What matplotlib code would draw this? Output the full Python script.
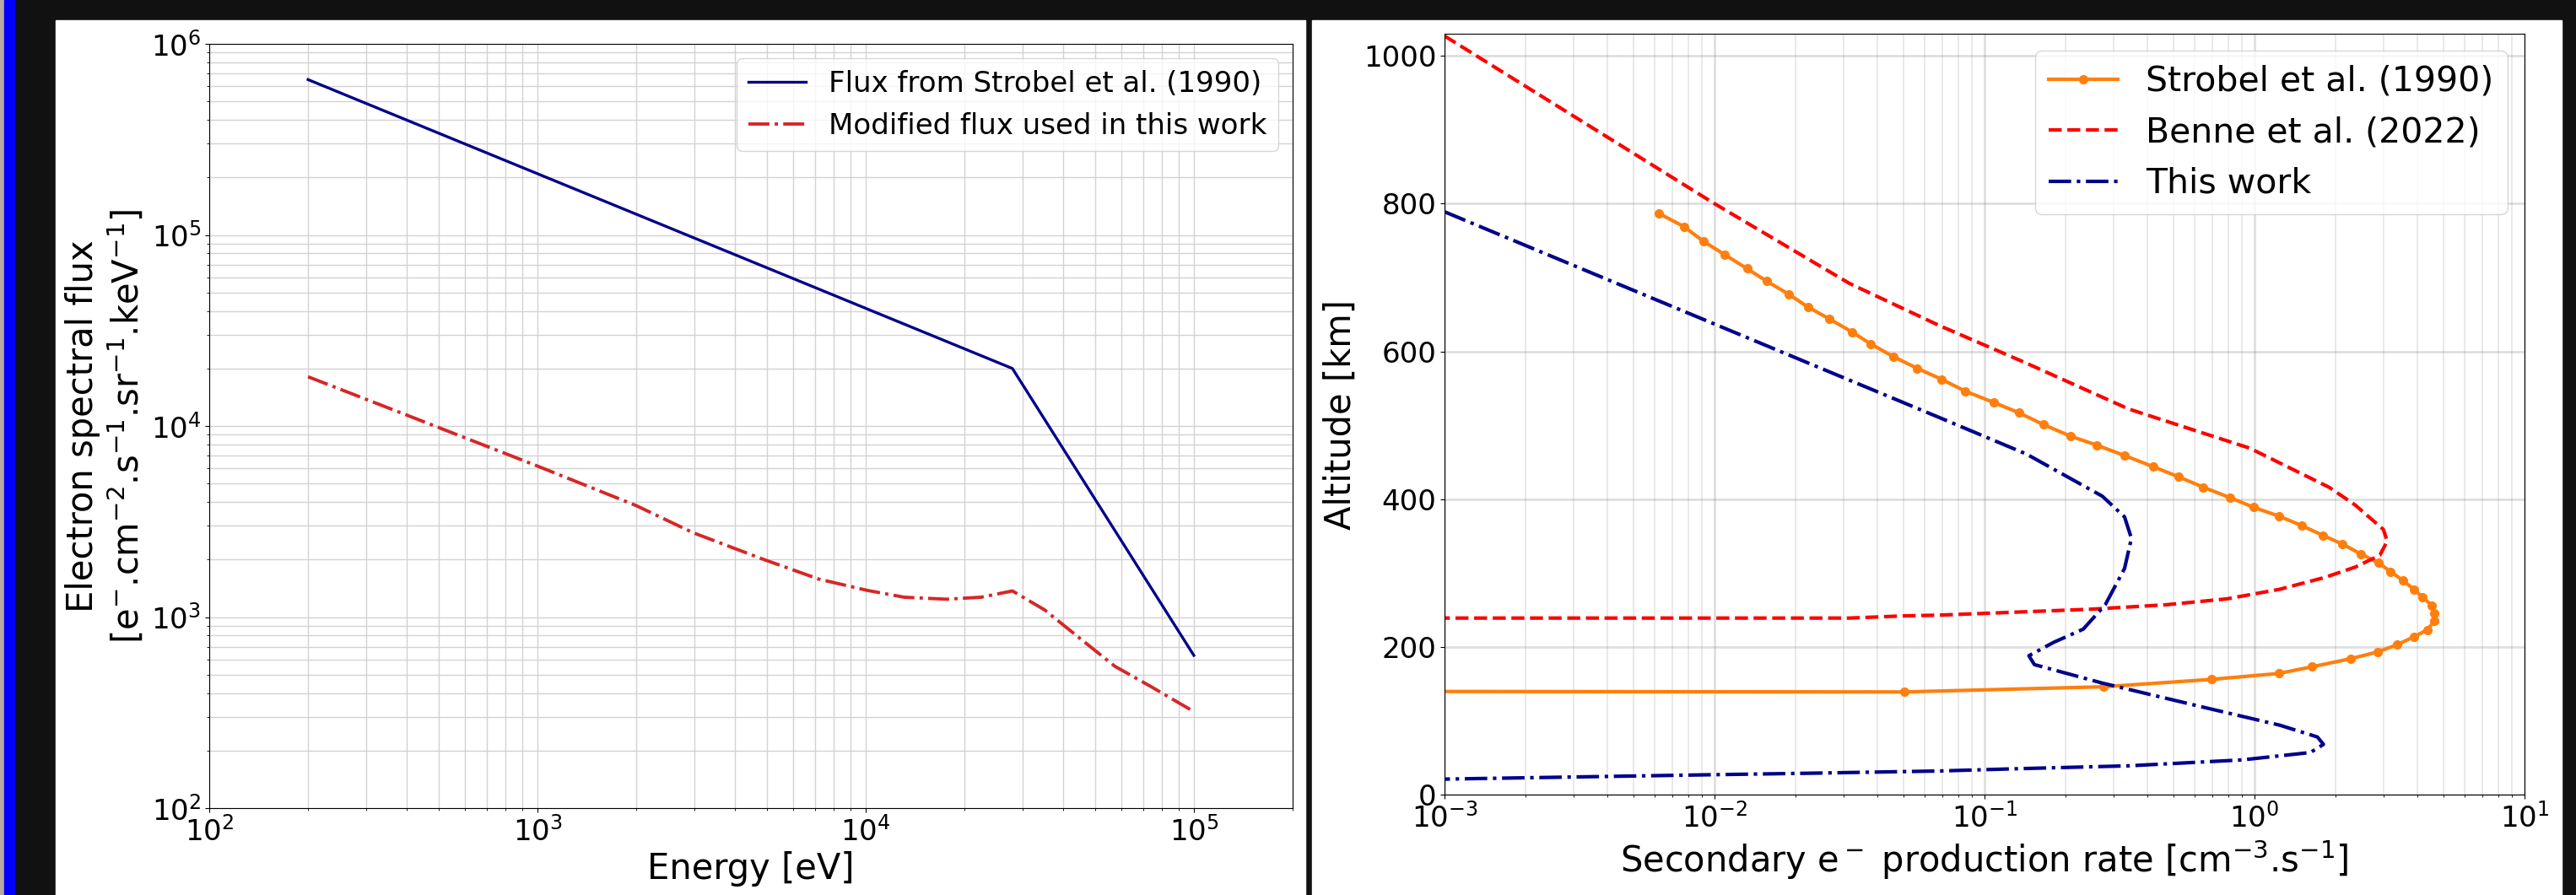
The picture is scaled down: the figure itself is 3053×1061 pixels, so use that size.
# ------------------------------------------------------------------------------
# Description:  Electron flux spectrum and secondary e- production rate profiles
# Execution:    python3 plot.py  ->  out.png
# ------------------------------------------------------------------------------
# ------------------------------------------------------------------------------
# Libraries
# ------------------------------------------------------------------------------

import matplotlib
matplotlib.use("Agg")
import matplotlib.pyplot as plt
from matplotlib.patches import Rectangle
import numpy as np

# ------------------------------------------------------------------------------
# Data
# ------------------------------------------------------------------------------

# Left panel: electron spectral flux vs energy [eV]
energy_strobel = [200, 2.8e4, 1.0e5]
flux_strobel = [6.5e5, 2.0e4, 630]

energy_modified = [200, 400, 1000, 2000, 2970, 4860, 7200, 1.01e4, 1.31e4,
                   1.76e4, 2.25e4, 2.8e4, 3.51e4, 4.49e4, 5.75e4, 7.36e4, 1.0e5]
flux_modified = [1.81e4, 1.14e4, 6.17e3, 3.83e3, 2.77e3, 2.01e3, 1.58e3, 1.38e3,
                 1.27e3, 1.24e3, 1.27e3, 1.37e3, 1.09e3, 775, 552, 435, 320]

left_legend = ["Flux from Strobel et al. (1990)", "Modified flux used in this work"]

# Right panel: secondary electron production rate [cm-3 s-1] vs altitude [km]
strobel_rate = [0.0062, 0.0077, 0.0091, 0.0109, 0.0132, 0.0156, 0.0189, 0.0222,
                0.0266, 0.0324, 0.0379, 0.0459, 0.0564, 0.0695, 0.085, 0.108,
                0.134, 0.165, 0.209, 0.261, 0.330, 0.421, 0.525, 0.647, 0.811,
                0.991, 1.23, 1.50, 1.79, 2.12, 2.47, 2.87, 3.19, 3.54, 3.89,
                4.20, 4.54, 4.64, 4.64, 4.36, 3.91, 3.38, 2.85, 2.27, 1.63,
                1.23, 0.693, 0.276, 0.0504, 1e-4]
strobel_alt = [787, 769, 749, 731, 712, 695, 677, 660, 644, 626, 610, 593, 577,
               562, 546, 531, 517, 501, 485, 473, 459, 444, 430, 416, 402, 389,
               377, 364, 351, 339, 326, 314, 302, 290, 278, 267, 256, 246, 235,
               223, 214, 203, 193, 184, 173, 164, 156, 146, 139, 140]

benne_rate = [1.0e-3, 0.01, 0.0316, 0.068, 0.143, 0.342, 0.96, 1.89, 2.36, 3.0,
              3.10, 2.91, 2.36, 1.82, 1.24, 0.79, 0.47, 0.248, 0.13, 0.068,
              0.0507, 0.0316, 0.01, 1.0e-3]
benne_alt = [1027, 800, 692, 635, 584, 522, 469, 416, 392, 359, 343, 324, 308,
             294, 278, 265, 257, 251, 247, 243, 242, 239, 239, 239]

thiswork_rate = [1.0e-3, 0.01, 0.0706, 0.143, 0.273, 0.33, 0.35, 0.33,
                 0.28, 0.232, 0.18, 0.146, 0.153, 0.273, 0.652, 1.24, 1.71,
                 1.80, 1.61, 0.90, 0.342, 0.13, 0.068, 0.0228, 0.01, 1.0e-3]
thiswork_alt = [789, 637, 508, 461, 404, 376, 347, 306, 257, 224, 206, 188,
                176, 151, 118, 94, 78, 68, 57, 47, 39, 35, 32, 29, 27, 21]

right_legend = ["Strobel et al. (1990)", "Benne et al. (2022)", "This work"]

# ------------------------------------------------------------------------------
# Functions
# ------------------------------------------------------------------------------


def add_background(fig, W, H):
    """Dark backdrop with two white panels and a thin blue strip on the left"""
    def rect(x0, y0, x1, y1, color):
        fig.patches.append(Rectangle((x0 / W, 1 - y1 / H), (x1 - x0) / W, (y1 - y0) / H,
                                     transform=fig.transFigure, color=color,
                                     zorder=-10, figure=fig))
    rect(0, 0, 5, H, '#b9aaa3')
    rect(5, 0, 17, H, '#0000ff')
    rect(66, 24, 1547, H, 'white')
    rect(1555, 24, 3036, H, 'white')


def plot_flux(ax):
    """Left panel: electron spectral flux"""
    ax.plot(energy_strobel, flux_strobel, color='darkblue', linewidth=2.4,
            label=left_legend[0])
    ax.plot(energy_modified, flux_modified, color='tab:red', linestyle='-.',
            linewidth=2.8, label=left_legend[1])

    ax.set_xscale('log')
    ax.set_yscale('log')
    ax.set_xlim(1e2, 2e5)
    ax.set_ylim(1e2, 1e6)

    ax.grid(True, which='both', color='#d2d2d2', linewidth=1.0)
    ax.tick_params(labelsize=24.5)

    ax.set_xlabel("Energy [eV]", fontsize=30)
    ax.set_ylabel("Electron spectral flux\n"
                  r"[e$^{-}$.cm$^{-2}$.s$^{-1}$.sr$^{-1}$.keV$^{-1}$]", fontsize=30)
    ax.legend(loc='upper right', fontsize=24.5)


def plot_production(ax):
    """Right panel: secondary electron production rate profiles"""
    ax.plot(strobel_rate, strobel_alt, color='tab:orange', linewidth=3,
            marker='o', markersize=7, label=right_legend[0])
    ax.plot(benne_rate, benne_alt, color='red', linestyle='--', linewidth=3,
            label=right_legend[1])
    ax.plot(thiswork_rate, thiswork_alt, color='darkblue', linestyle='-.',
            linewidth=3, label=right_legend[2])

    ax.set_xscale('log')
    ax.set_xlim(1e-3, 1e1)
    ax.set_ylim(0, 1030)
    ax.set_yticks(np.arange(0, 1001, 200))

    ax.grid(True, which='major', color='gray', alpha=0.25, linewidth=2)
    ax.grid(True, which='minor', color='gray', alpha=0.2, linewidth=1.2)
    ax.tick_params(labelsize=24.5)

    ax.set_xlabel(r"Secondary e$^-$ production rate [cm$^{-3}$.s$^{-1}$]", fontsize=30)
    ax.set_ylabel("Altitude [km]", fontsize=30)
    ax.legend(loc='upper right', fontsize=29.5)


def main():
    W, H = 3053, 1061
    fig = plt.figure(figsize=(W / 100, H / 100), dpi=100, facecolor='#111111')
    add_background(fig, W, H)

    # axes boxes in pixel units: left, top, right, bottom
    ax1 = fig.add_axes([248 / W, 1 - 958 / H, (1532 - 248) / W, (958 - 52) / H])
    ax2 = fig.add_axes([1712 / W, 1 - 942 / H, (2992 - 1712) / W, (942 - 40) / H])

    plot_flux(ax1)
    plot_production(ax2)

    fig.savefig("out.png", dpi=100, facecolor=fig.get_facecolor())
    plt.close(fig)


if __name__ == "__main__":
    main()
